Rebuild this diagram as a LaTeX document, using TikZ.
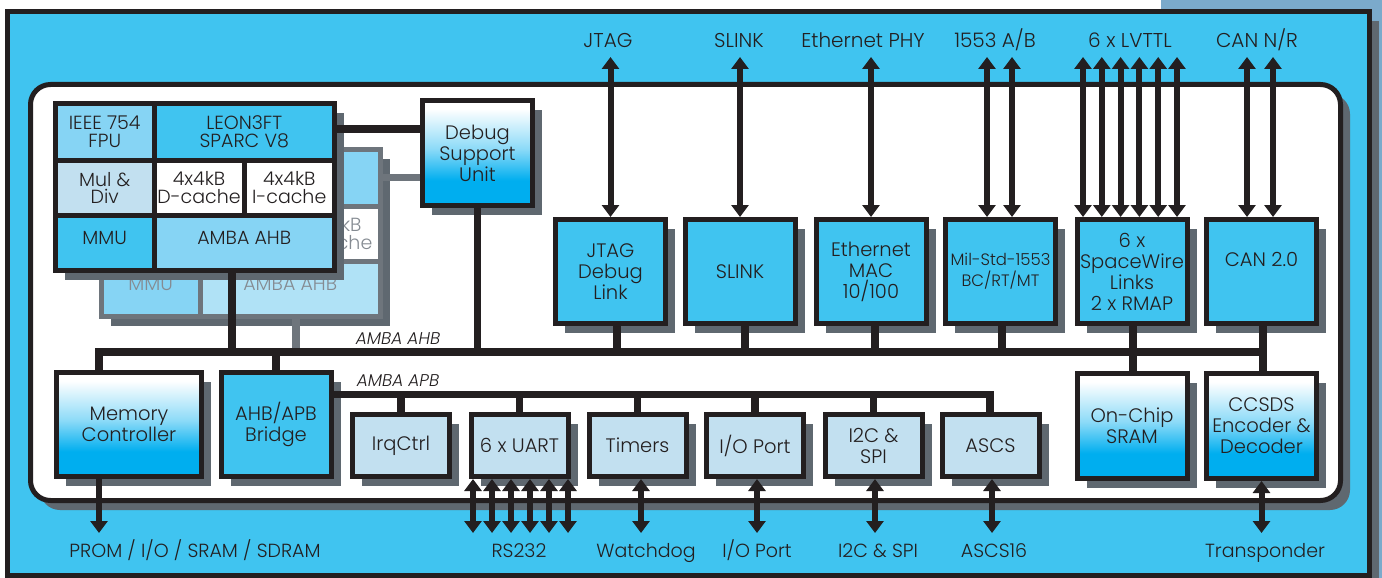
\documentclass[tikz,border=0pt]{standalone}
\usepackage{fontspec}
\setmainfont{Poppins}[UprightFont=* Light,ItalicFont=* Light Italic]
\usetikzlibrary{arrows.meta,shadows}

\definecolor{frameblue}{HTML}{40C4F0}
\definecolor{lightblue}{HTML}{86D4F4}
\definecolor{paleblue}{HTML}{C2E0F0}
\definecolor{gradblue}{HTML}{00AEEF}
\definecolor{shadegrey}{HTML}{5F6870}
\definecolor{ink}{HTML}{231F20}
\definecolor{ghostline}{HTML}{6E757C}
\definecolor{ghosttext}{HTML}{858B92}
\definecolor{ghostfill}{HTML}{B0E2F6}
\definecolor{steel}{HTML}{7BAACB}
\colorlet{gradmid}{gradblue!45!white}
\colorlet{gradtop}{gradblue!12!white}

\pgfdeclareverticalshading{boxgrad}{100bp}{color(0bp)=(gradblue); color(37bp)=(gradblue); color(52bp)=(gradmid); color(66bp)=(gradtop); color(71bp)=(white); color(100bp)=(white)}

\begin{document}
\begin{tikzpicture}[x=1pt,y=-1pt,
 boxshadow/.style={general shadow={fill=shadegrey,shadow xshift=9.5pt,shadow yshift=-9.5pt}},
 blk/.style={draw=ink,line width=5pt,fill=frameblue,text=ink,align=center,inner sep=0pt,
   minimum width=110pt,minimum height=104pt,font=\fontsize{19.5}{21}\selectfont,boxshadow},
 gradblk/.style={blk,shade,shading=boxgrad},
 apbblk/.style={blk,fill=paleblue,minimum width=97pt,minimum height=62pt},
 cell/.style={draw=ink,line width=5pt,text=ink,align=center,inner sep=0pt,font=\fontsize{19}{17.5}\selectfont},
 ghostcell/.style={cell,draw=ghostline,text=ghosttext},
 bus/.style={draw=ink,line width=7.5pt},
 ghostbus/.style={draw=ghostline,line width=7.5pt},
 dbl/.style={draw=ink,line width=6pt,>={Triangle[width=17pt,length=12pt]},<->},
 outarr/.style={draw=ink,line width=6pt,>={Triangle[width=17pt,length=12pt]},->},
 iotop/.style={text=ink,anchor=south,inner sep=0pt,text depth=9pt,font=\fontsize{20}{20}\selectfont},
 iobot/.style={text=ink,anchor=north,inner sep=0pt,text height=24pt,font=\fontsize{19}{19}\selectfont},
 buslbl/.style={text=ink,inner sep=0pt,font=\fontsize{17}{17}\selectfont\itshape}]

\useasboundingbox (0,0) rectangle (1382,578);

% frame and chip
\fill[steel] (1161,0) rectangle (1382,578);
\draw[ink,line width=5pt,fill=frameblue,boxshadow] (7.5,11.5) rectangle (1369.5,575.5);
\draw[ink,line width=5pt,fill=white,rounded corners=20pt,boxshadow] (30.5,84.5) rectangle (1340.5,500.5);

% second processor behind
\begin{scope}[shift={(46,46)}]
 \node[ghostcell,fill=lightblue,minimum width=279pt,minimum height=167pt,boxshadow] (ghost) at (195,187) {};
 \node[ghostcell,fill=white,minimum width=90.5pt,minimum height=55.5pt] (ghosticache) at (289.25,187.75) {4x4kB\\I-cache};
 \node[ghostcell,fill=lightblue,minimum width=98.5pt,minimum height=55pt,text depth=10pt] (ghostmmu) at (104.75,243) {MMU};
 \node[ghostcell,fill=ghostfill,minimum width=180.5pt,minimum height=55pt,text depth=10pt] (ghostahb) at (244.25,243) {AMBA AHB};
\end{scope}

% processor
\node[cell,fill=white,minimum width=279pt,minimum height=167pt,boxshadow] (cpu) at (195,187) {};
\node[cell,fill=lightblue,minimum width=98.5pt,minimum height=56.5pt] (fpu) at (104.75,131.75) {IEEE 754\\FPU};
\node[cell,fill=frameblue,minimum width=180.5pt,minimum height=56.5pt] (leon) at (244.25,131.75) {LEON3FT\\SPARC V8};
\node[cell,fill=paleblue,minimum width=98.5pt,minimum height=55.5pt] (muldiv) at (104.75,187.75) {Mul \&\\Div};
\node[cell,fill=white,minimum width=90pt,minimum height=55.5pt] (dcache) at (199,187.75) {4x4kB\\D-cache};
\node[cell,fill=white,minimum width=90.5pt,minimum height=55.5pt] (icache) at (289.25,187.75) {4x4kB\\I-cache};
\node[cell,fill=frameblue,minimum width=98.5pt,minimum height=55pt,text depth=10pt] (mmu) at (104.75,243) {MMU};
\node[cell,fill=lightblue,minimum width=180.5pt,minimum height=55pt,text depth=10pt] (ahbif) at (244.25,243) {AMBA AHB};

\node[gradblk,minimum height=105pt] (dsu) at (477.5,153) {Debug\\Support\\Unit};

% AHB cores
\node[blk] (jtag) at (610.5,271.5) {JTAG\\Debug\\Link};
\node[blk] (slink) at (740,271.5) {SLINK};
\node[blk] (eth) at (871,271.5) {Ethernet\\MAC\\10/100};
\node[blk,font=\fontsize{16.5}{21}\selectfont] (mil) at (1000.5,271.5) {Mil-Std-1553\\BC/RT/MT};
\node[blk] (spw) at (1132,271.5) {6 x\\SpaceWire\\Links\\2 x RMAP};
\node[blk,text depth=25pt] (can) at (1261.5,271.5) {CAN 2.0};

\node[gradblk,minimum width=145pt] (memctrl) at (129,424.5) {Memory\\Controller};
\node[blk] (bridge) at (276,424.5) {AHB/APB\\Bridge};
\node[gradblk,minimum height=105pt] (sram) at (1132,426) {On-Chip\\SRAM};
\node[gradblk,minimum height=105pt] (ccsds) at (1261.5,426) {CCSDS\\Encoder \&\\Decoder};

% APB cores
\node[apbblk] (irq) at (401,445.5) {IrqCtrl};
\node[apbblk] (uart) at (519.5,445.5) {6 x UART};
\node[apbblk] (timers) at (637.5,445.5) {Timers};
\node[apbblk] (ioport) at (755,445.5) {I/O Port};
\node[apbblk] (i2c) at (873.5,445.5) {I2C \&\\SPI};
\node[apbblk] (ascs) at (990.5,445.5) {ASCS};

% pins
\node[iotop] (jtagio) at (608,57) {JTAG};
\node[iotop] (slinkio) at (739,57) {SLINK};
\node[iotop] (ethio) at (863,57) {Ethernet PHY};
\node[iotop] (milio) at (995,57) {1553 A/B};
\node[iotop] (lvttlio) at (1130,57) {6 x LVTTL};
\node[iotop] (canio) at (1257,57) {CAN N/R};

\node[iobot] (memio) at (195,533) {PROM / I/O / SRAM / SDRAM};
\node[iobot] (uartio) at (519,533) {RS232};
\node[iobot] (wdio) at (646,533) {Watchdog};
\node[iobot] (ioio) at (757,533) {I/O Port};
\node[iobot] (i2cio) at (878,533) {I2C \& SPI};
\node[iobot] (ascsio) at (994,533) {ASCS16};
\node[iobot] (trio) at (1265,533) {Transponder};

\node[buslbl] (ahblbl) at (398,339) {AMBA AHB};
\node[buslbl] (apblbl) at (398,381) {AMBA APB};

% buses
\coordinate (ahbW) at (99,352);
\coordinate (ahbE) at (1263,352);
\coordinate (apbE) at (990,394.5);
\coordinate (cpudrop) at (232,352);
\coordinate (ghostdrop) at (296,352);

\draw[ghostbus] (ghost.east |- 0,177.5) -- (dsu.west |- 0,177.5);
\draw[ghostbus] (ghost.south -| ghostdrop) -- (ghostdrop);

\draw[bus] (memctrl.north -| ahbW) -- (ahbW) -- (ahbE) -- (ccsds.north -| ahbE);
\draw[bus] (cpu.south -| cpudrop) -- (cpudrop);
\draw[bus] ([yshift=2.75pt]leon.east) -- ([yshift=2.75pt]leon.east -| dsu.west);
\draw[bus] (dsu.south) -- (dsu.south |- ahbW);
\draw[bus] (bridge.north) -- (bridge.north |- ahbW);
\foreach \n/\dx in {jtag/6.5,slink/5,eth/4,mil/1.5}
  \draw[bus] ([xshift=\dx pt]\n.south) -- ([xshift=\dx pt]\n.south |- ahbW);
\draw[bus] ([xshift=1pt]spw.south) -- ([xshift=1pt]sram.north);
\draw[bus] (can.south -| ahbE) -- (ahbE);

\draw[bus] (bridge.east |- apbE) -- (apbE) -- (ascs.north -| apbE);
\foreach \n in {irq,uart,timers,ioport,i2c}
  \draw[bus] (\n.north) -- (\n.north |- apbE);

% off-chip signals
\draw[dbl] (jtag.north) -- (jtag.north |- jtagio.south);
\draw[dbl] (slink.north) -- (slink.north |- slinkio.south);
\draw[dbl] (eth.north) -- (eth.north |- ethio.south);
\foreach \dx in {-13.5,11.5}
  \draw[dbl] ([xshift=\dx pt]mil.north) -- ([xshift=\dx pt]mil.north |- milio.south);
\foreach \i in {0,...,5}
  \draw[dbl] ([xshift=-49pt+18.8pt*\i]spw.north) -- ([xshift=-49pt+18.8pt*\i]spw.north |- lvttlio.south);
\foreach \dx in {-14.5,11.5}
  \draw[dbl] ([xshift=\dx pt]can.north) -- ([xshift=\dx pt]can.north |- canio.south);

\draw[outarr] (memctrl.south -| ahbW) -- (ahbW |- memio.north);
\foreach \i in {0,...,5}
  \draw[dbl] ([xshift=-46.5pt+19pt*\i]uart.south) -- ([xshift=-46.5pt+19pt*\i]uart.south |- uartio.north);
\draw[dbl] ([xshift=3.5pt]timers.south) -- ([xshift=3.5pt]timers.south |- wdio.north);
\draw[dbl] ([xshift=2pt]ioport.south) -- ([xshift=2pt]ioport.south |- ioio.north);
\draw[dbl] ([xshift=1.5pt]i2c.south) -- ([xshift=1.5pt]i2c.south |- i2cio.north);
\draw[dbl] ([xshift=1.5pt]ascs.south) -- ([xshift=1.5pt]ascs.south |- ascsio.north);
\draw[dbl] (ccsds.south) -- (ccsds.south |- trio.north);

\end{tikzpicture}
\end{document}
